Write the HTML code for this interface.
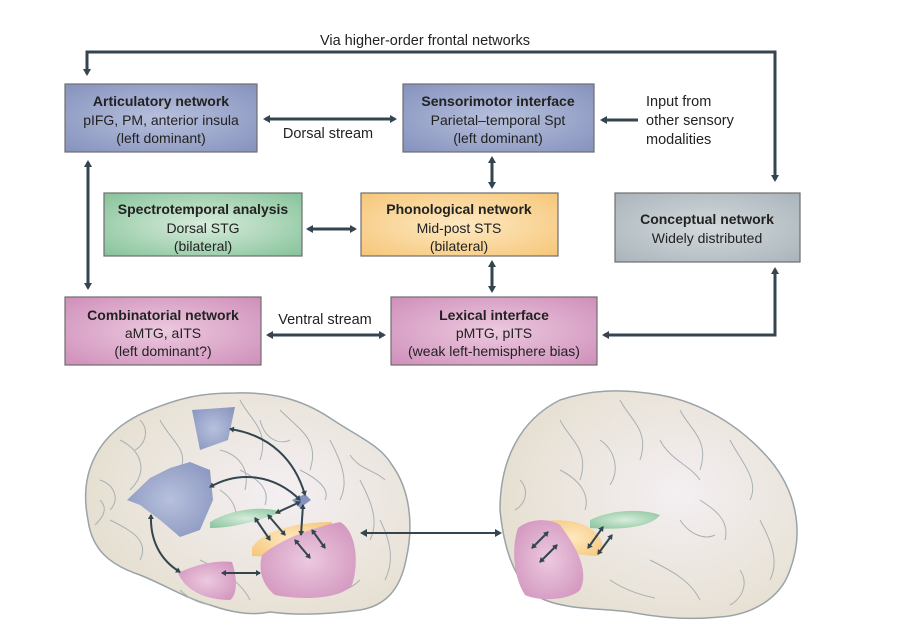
<!DOCTYPE html>
<html><head><meta charset="utf-8"><style>
html,body{margin:0;padding:0;background:#fff;}
svg{display:block;font-family:"Liberation Sans",sans-serif;}
</style></head><body>
<svg width="907" height="634" viewBox="0 0 907 634" xmlns="http://www.w3.org/2000/svg">
<defs>
<marker id="a" markerWidth="8" markerHeight="8" refX="5" refY="4" orient="auto-start-reverse" markerUnits="userSpaceOnUse"><path d="M0,0 L7,4 L0,8 Z" fill="#34454f"/></marker>
<marker id="s" markerWidth="6" markerHeight="6" refX="4" refY="3" orient="auto-start-reverse" markerUnits="userSpaceOnUse"><path d="M0,0 L5,3 L0,6 Z" fill="#34454f"/></marker>
<radialGradient id="gb" cx="0.5" cy="0.5" r="0.7"><stop offset="0" stop-color="#b7c0dc"/><stop offset="1" stop-color="#8592bd"/></radialGradient>
<radialGradient id="gg" cx="0.5" cy="0.5" r="0.7"><stop offset="0" stop-color="#d8ecdc"/><stop offset="1" stop-color="#86c39a"/></radialGradient>
<radialGradient id="gy" cx="0.5" cy="0.5" r="0.7"><stop offset="0" stop-color="#fde9c2"/><stop offset="1" stop-color="#f6c679"/></radialGradient>
<radialGradient id="gp" cx="0.5" cy="0.5" r="0.7"><stop offset="0" stop-color="#ecc9df"/><stop offset="1" stop-color="#cf8fba"/></radialGradient>
<radialGradient id="gc" cx="0.5" cy="0.5" r="0.7"><stop offset="0" stop-color="#d4dadd"/><stop offset="1" stop-color="#a9b4ba"/></radialGradient>
<radialGradient id="br" cx="0.6" cy="0.45" r="0.6"><stop offset="0" stop-color="#f4eff2"/><stop offset="1" stop-color="#e6e0d2"/></radialGradient>
</defs>
<g stroke="#34454f" stroke-width="3" fill="none">
<polyline points="87,74 87,52 775,52 775,180" marker-end="url(#a)"/>
<line x1="87" y1="52" x2="87" y2="74" marker-end="url(#a)"/>
<line x1="265" y1="119" x2="395" y2="119" marker-start="url(#a)" marker-end="url(#a)"/>
<line x1="638" y1="120" x2="602" y2="120" marker-end="url(#a)"/>
<line x1="88" y1="162" x2="88" y2="288" marker-start="url(#a)" marker-end="url(#a)"/>
<line x1="492" y1="158" x2="492" y2="187" marker-start="url(#a)" marker-end="url(#a)"/>
<line x1="492" y1="262" x2="492" y2="291" marker-start="url(#a)" marker-end="url(#a)"/>
<line x1="308" y1="229" x2="355" y2="229" marker-start="url(#a)" marker-end="url(#a)"/>
<line x1="268" y1="335" x2="384" y2="335" marker-start="url(#a)" marker-end="url(#a)"/>
<polyline points="775,269 775,335 604,335" marker-start="url(#a)" marker-end="url(#a)"/>
</g>
<g font-size="14.5" fill="#222" text-anchor="middle">
<text x="425" y="45">Via higher-order frontal networks</text>
<text x="328" y="138">Dorsal stream</text>
<text x="325" y="324">Ventral stream</text>
<text x="646" y="106" text-anchor="start">Input from</text>
<text x="646" y="125" text-anchor="start">other sensory</text>
<text x="646" y="144" text-anchor="start">modalities</text>
</g>
<g stroke="#6e6e6e" stroke-width="1.2">
<rect x="65" y="84" width="192" height="68" fill="url(#gb)"/>
<rect x="403" y="84" width="191" height="68" fill="url(#gb)"/>
<rect x="104" y="193" width="198" height="63" fill="url(#gg)"/>
<rect x="361" y="193" width="197" height="63" fill="url(#gy)"/>
<rect x="615" y="193" width="185" height="69" fill="url(#gc)"/>
<rect x="65" y="297" width="196" height="68" fill="url(#gp)"/>
<rect x="391" y="297" width="206" height="68" fill="url(#gp)"/>
</g>
<g font-size="14" fill="#222" text-anchor="middle">
<text x="161" y="106" font-weight="bold">Articulatory network</text><text x="161" y="125">pIFG, PM, anterior insula</text><text x="161" y="143">(left dominant)</text>
<text x="498" y="106" font-weight="bold">Sensorimotor interface</text><text x="498" y="125">Parietal–temporal Spt</text><text x="498" y="143">(left dominant)</text>
<text x="203" y="214" font-weight="bold">Spectrotemporal analysis</text><text x="203" y="233">Dorsal STG</text><text x="203" y="251">(bilateral)</text>
<text x="459" y="214" font-weight="bold">Phonological network</text><text x="459" y="233">Mid-post STS</text><text x="459" y="251">(bilateral)</text>
<text x="707" y="224" font-weight="bold">Conceptual network</text><text x="707" y="243">Widely distributed</text>
<text x="163" y="320" font-weight="bold">Combinatorial network</text><text x="163" y="338">aMTG, aITS</text><text x="163" y="356">(left dominant?)</text>
<text x="494" y="320" font-weight="bold">Lexical interface</text><text x="494" y="338">pMTG, pITS</text><text x="494" y="356">(weak left-hemisphere bias)</text>
</g>
<!-- left brain -->
<path d="M88,520 C78,470 100,430 150,410 C180,398 200,393 235,393 C270,392 300,398 330,418 C360,438 380,445 392,465 C410,490 414,525 406,560 C400,590 385,606 360,610 C330,614 300,616 270,612 C250,616 230,612 210,605 C185,598 165,585 140,575 C110,565 92,550 88,520 Z" fill="url(#br)" stroke="#9aa3a8" stroke-width="1.5"/>
<g stroke="#a9b0b3" stroke-width="1" fill="none">
<path d="M120,440 C140,450 150,470 130,490 M160,420 C170,440 190,450 180,470 M240,400 C250,420 270,430 260,460 M280,410 C300,430 320,440 310,470 M330,440 C340,460 350,480 340,500 M110,520 C130,530 150,540 140,560 M360,480 C370,500 380,520 370,540 M200,560 C220,570 240,580 250,600 M300,470 C320,480 330,490 325,500 M220,450 C240,455 250,470 245,490 M100,480 C115,485 120,500 110,510 M140,420 C150,430 145,445 135,450 M260,420 C265,440 280,445 290,440 M350,455 C360,470 375,470 385,480 M380,520 C390,540 395,560 385,580 M220,490 C235,500 240,515 232,525 M240,470 C260,480 270,490 265,505 M320,590 C335,595 350,590 360,580 M180,590 C190,600 200,603 210,605 M100,500 C110,510 100,520 95,525"/>
</g>
<path d="M192,410 L235,407 L228,440 L200,450 Z" fill="url(#gb)"/>
<path d="M150,478 L170,468 L190,462 L210,470 L213,500 L200,530 L180,537 L160,520 L140,505 L127,500 Z" fill="url(#gb)"/>
<path d="M292,500 L305,494 L311,500 L300,508 Z" fill="#8592bd"/>
<path d="M210,522 C230,510 260,505 282,512 C260,520 235,528 210,528 Z" fill="url(#gg)"/>
<path d="M252,548 C262,530 300,522 332,522 L330,540 C315,552 280,558 252,556 Z" fill="url(#gy)"/>
<path d="M262,555 C280,540 310,528 340,522 C355,530 360,560 352,585 C340,600 300,600 275,595 C262,585 258,570 262,555 Z" fill="url(#gp)"/>
<path d="M178,573 C195,565 215,560 232,562 C238,580 237,595 230,600 C205,600 185,590 178,573 Z" fill="url(#gp)"/>
<!-- right brain -->
<path d="M500,510 C500,460 520,420 560,400 C590,390 620,388 660,395 C700,402 740,425 770,460 C795,490 805,530 790,570 C780,600 750,615 720,617 C690,620 660,618 630,612 C600,608 570,610 545,600 C520,590 505,560 500,510 Z" fill="url(#br)" stroke="#9aa3a8" stroke-width="1.5"/>
<g stroke="#a9b0b3" stroke-width="1" fill="none">
<path d="M560,420 C570,440 590,450 580,480 M620,400 C630,420 650,430 640,460 M680,410 C690,430 710,440 700,470 M730,440 C740,460 760,480 750,500 M560,470 C580,480 590,495 585,510 M760,520 C770,540 780,560 770,580 M650,560 C670,570 690,580 700,600 M600,440 C615,450 620,470 610,485 M660,440 C670,460 690,465 700,480 M700,500 C715,510 730,520 725,540 M740,570 C750,585 740,600 730,605 M520,480 C530,490 525,505 515,510 M610,580 C625,590 640,595 655,598 M680,520 C690,535 705,540 715,535"/>
</g>
<path d="M590,520 C610,510 640,508 660,515 C650,528 620,530 590,528 Z" fill="url(#gg)"/>
<path d="M540,522 C560,518 585,520 598,535 C605,545 605,555 595,556 C575,555 555,550 540,540 Z" fill="url(#gy)"/>
<path d="M518,528 C530,518 550,518 560,525 C575,545 590,570 580,590 C570,600 540,602 525,595 C512,575 512,545 518,528 Z" fill="url(#gp)"/>
<g stroke="#34454f" stroke-width="2" fill="none">
<line x1="362" y1="533" x2="500" y2="533" marker-start="url(#a)" marker-end="url(#a)"/>
<path d="M230,429 C270,435 295,460 305,495" marker-start="url(#s)" marker-end="url(#s)"/>
<path d="M210,487 C240,470 275,475 300,500" marker-start="url(#s)" marker-end="url(#s)"/>
<path d="M151,515 C150,540 160,560 180,572" marker-start="url(#s)" marker-end="url(#s)"/>
<line x1="222" y1="573" x2="260" y2="573" marker-start="url(#s)" marker-end="url(#s)"/>
<line x1="276" y1="513" x2="300" y2="502" marker-start="url(#s)" marker-end="url(#s)"/>
<line x1="303" y1="505" x2="301" y2="535" marker-start="url(#s)" marker-end="url(#s)"/>
<line x1="255" y1="518" x2="270" y2="540" marker-start="url(#s)" marker-end="url(#s)"/>
<line x1="268" y1="515" x2="285" y2="535" marker-start="url(#s)" marker-end="url(#s)"/>
<line x1="295" y1="540" x2="310" y2="558" marker-start="url(#s)" marker-end="url(#s)"/>
<line x1="312" y1="530" x2="325" y2="548" marker-start="url(#s)" marker-end="url(#s)"/>
<line x1="532" y1="548" x2="548" y2="532" marker-start="url(#s)" marker-end="url(#s)"/>
<line x1="540" y1="562" x2="557" y2="545" marker-start="url(#s)" marker-end="url(#s)"/>
<line x1="588" y1="548" x2="603" y2="527" marker-start="url(#s)" marker-end="url(#s)"/>
<line x1="598" y1="554" x2="612" y2="535" marker-start="url(#s)" marker-end="url(#s)"/>
</g>
</svg>
</body></html>
